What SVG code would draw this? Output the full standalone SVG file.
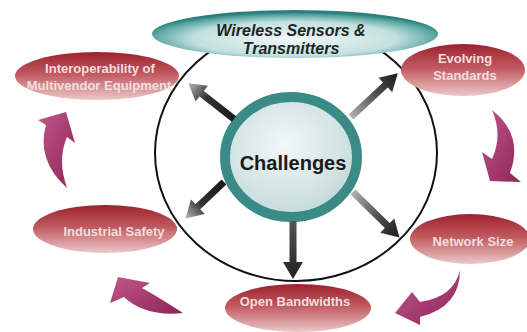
<svg xmlns="http://www.w3.org/2000/svg" width="527" height="332" viewBox="0 0 527 332">
<defs>
<linearGradient id="red" x1="0" y1="0" x2="0" y2="1">
<stop offset="0" stop-color="#9c2230"/>
<stop offset="0.45" stop-color="#c0585f"/>
<stop offset="1" stop-color="#ecc8c8"/>
</linearGradient>
<radialGradient id="teal" cx="0.5" cy="0.6" r="0.55">
<stop offset="0" stop-color="#f2f8f7"/>
<stop offset="0.65" stop-color="#c2e0de"/>
<stop offset="0.9" stop-color="#5aa6a2"/>
<stop offset="1" stop-color="#2c807c"/>
</radialGradient>
<radialGradient id="inner" cx="0.45" cy="0.4" r="0.6">
<stop offset="0" stop-color="#f2f7f7"/>
<stop offset="1" stop-color="#c6dadb"/>
</radialGradient>
<linearGradient id="mag" x1="0" y1="0" x2="1" y2="1">
<stop offset="0" stop-color="#c0588a"/>
<stop offset="1" stop-color="#8e2458"/>
</linearGradient>
<linearGradient id="darkToLight" x1="0" y1="0" x2="1" y2="0">
<stop offset="0" stop-color="#1a1a1a"/>
<stop offset="0.6" stop-color="#333"/>
<stop offset="1" stop-color="#b8b8b8"/>
</linearGradient>
<linearGradient id="lightToDark" x1="0" y1="0" x2="1" y2="0">
<stop offset="0" stop-color="#b0b0b0"/>
<stop offset="0.5" stop-color="#555"/>
<stop offset="1" stop-color="#1a1a1a"/>
</linearGradient>
<linearGradient id="darkAll" x1="0" y1="0" x2="1" y2="0">
<stop offset="0" stop-color="#555"/>
<stop offset="1" stop-color="#222"/>
</linearGradient>
</defs>
<style>
.node-red { fill: url(#red); }
.lbl { font-family: "Liberation Sans", Arial, sans-serif; font-size: 13px; font-weight: bold; fill: #f2dede; text-anchor: middle; }
.wl { font-family: "Liberation Sans", Arial, sans-serif; font-size: 16px; font-weight: bold; font-style: italic; fill: #1b2626; text-anchor: middle; }
.ch { font-family: "Liberation Sans", Arial, sans-serif; font-size: 20px; font-weight: bold; fill: #1a1a1a; text-anchor: middle; }
.cyc { fill: url(#mag); }
</style>
<rect width="527" height="332" fill="#ffffff"/>

<g id="outer-ring">
<ellipse cx="296" cy="153" rx="141" ry="128" fill="none" stroke="#111" stroke-width="2"/>
</g>

<g id="challenges">
<ellipse cx="291" cy="157" rx="66" ry="60" fill="url(#inner)" stroke="#3a8a87" stroke-width="10"/>
<text class="ch" x="293" y="170">Challenges</text>
</g>

<g id="wireless">
<ellipse cx="295" cy="34" rx="143" ry="24" fill="url(#teal)"/>
<text class="wl" x="291" y="36">Wireless Sensors &amp;</text>
<text class="wl" x="291" y="54">Transmitters</text>
</g>

<g id="interoperability">
<ellipse class="node-red" cx="97" cy="76" rx="82" ry="24"/>
<text class="lbl" x="100" y="73">Interoperability of</text>
<text class="lbl" x="99" y="90">Multivendor Equipment</text>
</g>

<g id="evolving">
<ellipse class="node-red" cx="463" cy="70" rx="62" ry="26"/>
<text class="lbl" x="465" y="63">Evolving</text>
<text class="lbl" x="465" y="80">Standards</text>
</g>

<g id="industrial">
<ellipse class="node-red" cx="105" cy="229" rx="72" ry="24"/>
<text class="lbl" x="114" y="236">Industrial Safety</text>
</g>

<g id="network">
<ellipse class="node-red" cx="470" cy="239" rx="60" ry="25"/>
<text class="lbl" x="473" y="246">Network Size</text>
</g>

<g id="open">
<ellipse class="node-red" cx="298" cy="308" rx="73" ry="24"/>
<text class="lbl" x="295" y="306">Open Bandwidths</text>
</g>

<g id="connectors">
<path fill="url(#darkToLight)" transform="translate(234,119) rotate(218.05)" d="M0,-3.5 L41,-3.5 L41,-10 L58,0 L41,10 L41,3.5 L0,3.5 Z"/>
<path fill="url(#lightToDark)" transform="translate(351,117) rotate(-43)" d="M0,-3.5 L47,-3.5 L47,-10 L64,0 L47,10 L47,3.5 L0,3.5 Z"/>
<path fill="url(#darkToLight)" transform="translate(224,182) rotate(136.6)" d="M0,-3.5 L36,-3.5 L36,-10 L53,0 L36,10 L36,3.5 L0,3.5 Z"/>
<path fill="url(#darkAll)" transform="translate(293,221) rotate(90)" d="M0,-3.5 L41,-3.5 L41,-10 L58,0 L41,10 L41,3.5 L0,3.5 Z"/>
<path fill="url(#lightToDark)" transform="translate(353,192) rotate(44.4)" d="M0,-3.5 L48,-3.5 L48,-10 L65,0 L48,10 L48,3.5 L0,3.5 Z"/>
<path class="cyc" d="M67,188 Q36,160 46,125 L38,120 L66,112 L75,143 L67,137 Q57,160 67,188 Z"/>
<path class="cyc" d="M492,110 Q524,135 510,173 L521,182 L490,181 L482,152 L492,159 Q503,135 492,110 Z"/>
<path class="cyc" d="M460,270 Q454,297 420,302 L412,292 L395,313 L420,325 L420,317 Q460,307 460,270 Z"/>
<path class="cyc" d="M183,313 Q155,295 142,288 L150,283 L118,277 L110,303 L124,297 Q145,317 183,313 Z"/>
</g>
</svg>
